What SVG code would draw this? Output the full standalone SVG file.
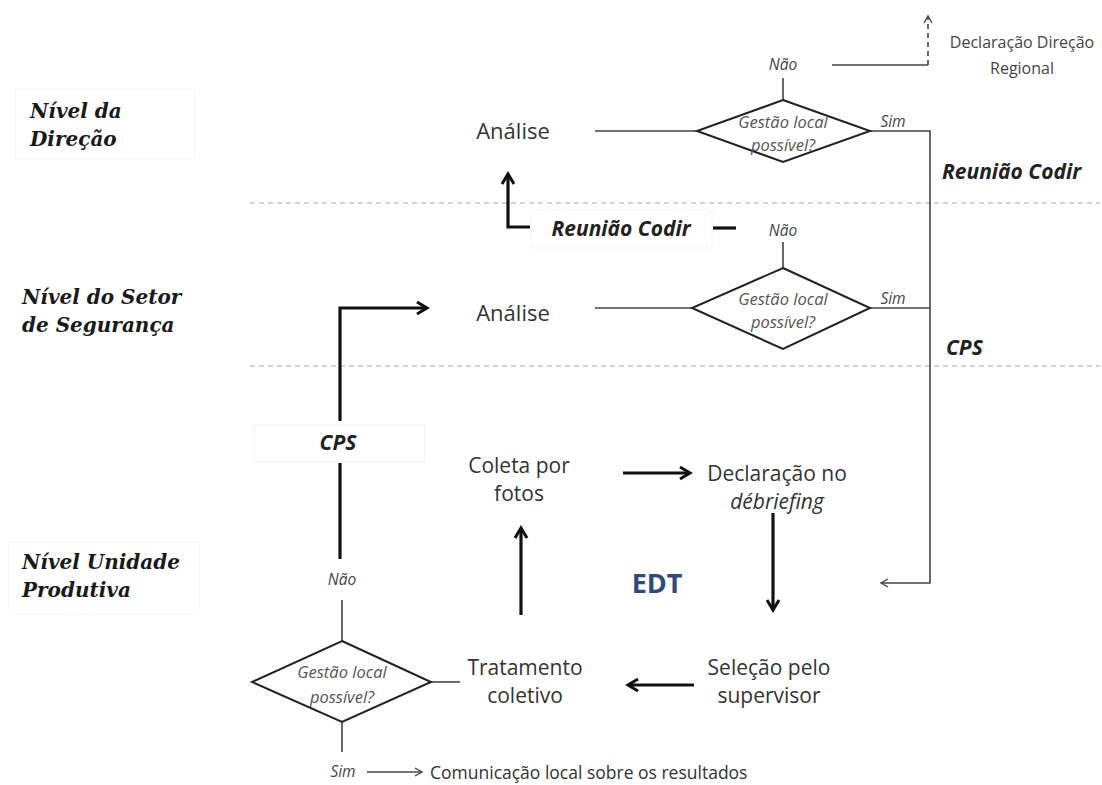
<svg xmlns="http://www.w3.org/2000/svg" width="1102" height="785" viewBox="0 0 1102 785">
<defs>
<style>
.lvl{font-family:"DejaVu Serif","Liberation Serif",serif;font-weight:bold;font-style:italic;font-size:20px;fill:#1a1a1a}
.lbox{fill:#fff;stroke:#f3f3f3;stroke-width:1}
.node{font-family:"Open Sans","Noto Sans",sans-serif;font-size:21px;fill:#333;text-anchor:middle}
.an{font-family:"Open Sans","Noto Sans",sans-serif;font-size:22px;fill:#333;text-anchor:middle}
.small{font-family:"Open Sans","Noto Sans",sans-serif;font-size:15.5px;fill:#444;font-style:italic;text-anchor:middle}
.dtext{font-family:"Open Sans","Noto Sans",sans-serif;font-size:16.5px;fill:#555;font-style:italic;text-anchor:middle}
.bi{font-family:"Open Sans","Noto Sans",sans-serif;font-size:21px;font-weight:bold;font-style:italic;fill:#222}
.reg{font-family:"Open Sans","Noto Sans",sans-serif;font-size:16px;fill:#444}
.com{font-family:"Open Sans","Noto Sans",sans-serif;font-size:17.5px;fill:#333}
.thin{fill:none;stroke:#444;stroke-width:1.6}
.bold{fill:none;stroke:#111;stroke-width:3.2}
.dia{fill:#fff;stroke:#222;stroke-width:2}
.sep{stroke:#aaa;stroke-width:1;stroke-dasharray:5,4}
</style>
<marker id="abig" markerWidth="16" markerHeight="16" refX="13" refY="8" orient="auto" markerUnits="userSpaceOnUse" viewBox="0 0 16 16">
<polyline points="3,2 13,8 3,14" fill="none" stroke="#111" stroke-width="3" stroke-linejoin="miter"/>
</marker>
<marker id="at" markerWidth="10" markerHeight="10" refX="9" refY="5" orient="auto" markerUnits="userSpaceOnUse" viewBox="0 0 10 10">
<polyline points="2,1 9,5 2,9" fill="none" stroke="#444" stroke-width="1.4"/>
</marker>
</defs>
<rect width="1102" height="785" fill="#fff"/>

<g id="separators">
<line class="sep" x1="250" y1="203" x2="1100" y2="203"/>
<line class="sep" x1="250" y1="366" x2="1100" y2="366"/>
</g>

<g id="level-direcao">
<rect class="lbox" x="15" y="89" width="180" height="70"/>
<text class="lvl" x="30" y="118">Nível da</text>
<text class="lvl" x="30" y="146">Direção</text>
</g>
<g id="level-setor">
<text class="lvl" x="22" y="304">Nível do Setor</text>
<text class="lvl" x="22" y="332">de Segurança</text>
</g>
<g id="level-unidade">
<rect class="lbox" x="9" y="542" width="190" height="72"/>
<text class="lvl" x="22" y="569">Nível Unidade</text>
<text class="lvl" x="22" y="597">Produtiva</text>
</g>

<g id="connectors">
<line class="thin" x1="783" y1="78" x2="783" y2="100"/>
<polyline class="thin" points="832,65 928,65"/>
<line class="thin" x1="928" y1="65" x2="928" y2="16" stroke-dasharray="5,4" marker-end="url(#at)"/>
<line class="thin" x1="595" y1="131" x2="697" y2="131"/>
<polyline class="thin" points="870,131 930,131 930,583 881,583" marker-end="url(#at)"/>
<line class="thin" x1="783" y1="242" x2="783" y2="268"/>
<line class="thin" x1="595" y1="308" x2="692" y2="308"/>
<line class="thin" x1="870" y1="308" x2="930" y2="308"/>
<line class="bold" x1="713" y1="228" x2="736" y2="228"/>
<polyline class="bold" points="530,227 508,227 508,174" marker-end="url(#abig)"/>
<polyline class="bold" points="340,559 340,463"/>
<polyline class="bold" points="340,421 340,308 427,308" marker-end="url(#abig)"/>
<line class="bold" x1="623" y1="473" x2="690" y2="473" marker-end="url(#abig)"/>
<line class="bold" x1="773" y1="513" x2="773" y2="610" marker-end="url(#abig)"/>
<line class="bold" x1="694" y1="685" x2="628" y2="685" marker-end="url(#abig)"/>
<line class="bold" x1="521" y1="615" x2="521" y2="528" marker-end="url(#abig)"/>
<line class="thin" x1="342" y1="600" x2="342" y2="641"/>
<line class="thin" x1="431" y1="682" x2="460" y2="682"/>
<line class="thin" x1="342" y1="722" x2="342" y2="752"/>
<line class="thin" x1="367" y1="772" x2="422" y2="772" marker-end="url(#at)"/>
</g>

<g id="decision-direcao">
<polygon class="dia" points="783,100 870,131 783,162 697,131"/>
<text class="dtext" x="783" y="128">Gestão local</text>
<text class="dtext" x="783" y="151">possível?</text>
<text class="small" x="783" y="70">Não</text>
<text class="small" x="893" y="127">Sim</text>
</g>
<g id="declaracao-regional">
<text class="reg" text-anchor="middle" x="1022" y="48">Declaração Direção</text>
<text class="reg" text-anchor="middle" x="1022" y="74">Regional</text>
</g>
<g id="analise-direcao">
<text class="an" x="513" y="139">Análise</text>
</g>
<g id="reuniao-codir-right">
<text class="bi" x="942" y="179">Reunião Codir</text>
</g>
<g id="reuniao-codir-mid">
<rect x="531" y="210" width="181" height="38" rx="3" fill="#fff" stroke="#f3f3f3"/>
<text class="bi" x="621" y="236" text-anchor="middle">Reunião Codir</text>
</g>

<g id="decision-setor">
<polygon class="dia" points="783,268 870,308 783,349 692,308"/>
<text class="dtext" x="783" y="305">Gestão local</text>
<text class="dtext" x="783" y="328">possível?</text>
<text class="small" x="783" y="236">Não</text>
<text class="small" x="893" y="304">Sim</text>
</g>
<g id="analise-setor">
<text class="an" x="513" y="321">Análise</text>
</g>
<g id="cps-right">
<text class="bi" x="946" y="355">CPS</text>
</g>
<g id="cps-left">
<rect x="254" y="425" width="171" height="37" fill="#fff" stroke="#f0f0f0"/>
<text class="bi" x="338" y="450" text-anchor="middle">CPS</text>
</g>

<g id="coleta">
<text class="node" x="519" y="473">Coleta por</text>
<text class="node" x="519" y="501">fotos</text>
</g>
<g id="declaracao-debriefing">
<text class="node" x="777" y="481">Declaração no</text>
<text class="node" x="777" y="509" font-style="italic">débriefing</text>
</g>
<g id="edt">
<text x="657" y="593" font-family="Open Sans, Noto Sans, sans-serif" font-size="27" font-weight="bold" fill="#2f4a7c" text-anchor="middle">EDT</text>
</g>
<g id="selecao">
<text class="node" x="769" y="675">Seleção pelo</text>
<text class="node" x="769" y="703">supervisor</text>
</g>
<g id="tratamento">
<text class="node" x="525" y="675">Tratamento</text>
<text class="node" x="525" y="703">coletivo</text>
</g>
<g id="decision-unidade">
<polygon class="dia" points="342,641 431,682 342,722 252,682"/>
<text class="dtext" x="342" y="678">Gestão local</text>
<text class="dtext" x="342" y="703">possível?</text>
<text class="small" x="342" y="585">Não</text>
<text class="small" x="343" y="777">Sim</text>
</g>
<g id="comunicacao">
<text class="com" x="430" y="779">Comunicação local sobre os resultados</text>
</g>
</svg>
